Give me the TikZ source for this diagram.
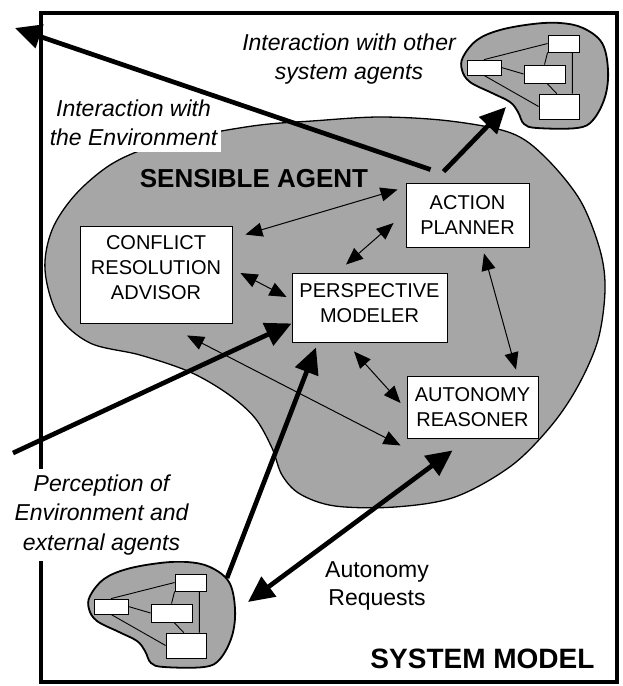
\documentclass[tikz,border=0pt]{standalone}
\usepackage{fontspec}
\setmainfont{Liberation Sans}
\usetikzlibrary{arrows.meta,calc}
\definecolor{agentgray}{RGB}{166,166,166}
\tikzset{
  module/.style={draw,fill=white,line width=0.9pt,inner sep=0pt,align=center,
    font=\fontsize{20}{25}\selectfont},
  minibox/.style={draw,fill=white,line width=0.8pt,inner sep=0pt},
  note/.style={align=center,font=\fontsize{23}{29.5}\selectfont\itshape},
  link/.style={{Triangle[length=17pt,width=14pt]}-{Triangle[length=17pt,width=14pt]},line width=1pt},
  flow/.style={-{Triangle[length=26pt,width=24pt]},line width=4.7pt},
  twoway/.style={{Triangle[length=26pt,width=24pt]}-{Triangle[length=26pt,width=24pt]},line width=4.7pt},
  pics/subsystem/.style={code={
    \draw[line width=1.8pt,fill=agentgray] plot[smooth cycle,tension=0.6] coordinates
      {(1,-10) (15,-27) (38,-37) (71,-43) (98,-44) (121,-39) (140,-24) (146,3)
       (143,30) (131,53) (115,61) (75,61) (62,57) (56,45) (48,35) (30,26) (8,15) (0,3)};
    \node[minibox,minimum width=34pt,minimum height=15pt] (-b1) at (22,0.5) {};
    \node[minibox,minimum width=31pt,minimum height=17pt] (-b2) at (101.5,-23.5) {};
    \node[minibox,minimum width=41pt,minimum height=18pt] (-b3) at (82.5,7) {};
    \node[minibox,minimum width=40pt,minimum height=25pt] (-b4) at (97,39.5) {};
    \draw[line width=0.9pt] (-b1.north) -- (-b2.west)
      (-b1.east) -- (-b3.west)
      (-b1.south) -- (-b4.west)
      (-b2.south west) -- (-b3.north)
      (-b3.-75) -- (-b4.100)
      ([xshift=-7pt]-b2.south east) -- ([xshift=-7pt]-b4.north east);
  }}
}
\begin{document}
\begin{tikzpicture}[x=1pt,y=-1pt]
\useasboundingbox (0,0) rectangle (623,686);
\draw[line width=1.3pt,fill=agentgray] plot[smooth cycle,tension=0.55] coordinates
  {(200,135) (260,125) (312,121) (380,117) (450,121) (511,133) (545,157) (580,200)
   (600,250) (605,290) (598,340) (578,386) (551,426) (511,466) (455,497) (395,507)
   (335,506) (300,494) (282,475) (272,448) (255,418) (228,394) (190,372) (140,355)
   (90,343) (58,315) (45,270) (52,230) (75,195) (110,165) (150,147)};
\pic (peer) at (462,67) {subsystem};
\pic (local) at (89,606) {subsystem};
\draw[line width=3.6pt] (41,13) rectangle (617,682);

\node[note,fill=white,inner xsep=4pt,inner ysep=6pt] (envnote) at (133.5,123) {Interaction with\\the Environment};
\node[note,fill=white,inner xsep=4pt,inner ysep=6pt] (percnote) at (101.5,515) {Perception of\\Environment and\\external agents};
\node[note] (peernote) at (349,59) {Interaction with other\\system agents};
\node[align=center,font=\fontsize{23}{28}\selectfont] (reqnote) at (377,586) {Autonomy\\Requests};
\node[anchor=base,font=\fontsize{26}{30}\selectfont\bfseries] (agent) at (254,187) {SENSIBLE AGENT};
\node[anchor=base,font=\fontsize{28}{32}\selectfont\bfseries] (system) at (482.5,668) {SYSTEM MODEL};

\node[module,minimum width=152pt,minimum height=97pt,text depth=13pt] (conflict) at (156,274.5) {CONFLICT\\RESOLUTION\\ADVISOR};
\node[module,minimum width=155pt,minimum height=69pt,text depth=8pt] (perspective) at (369.5,307.5) {PERSPECTIVE\\MODELER};
\node[module,minimum width=123pt,minimum height=64pt] (action) at (467.5,215) {ACTION\\PLANNER};
\node[module,minimum width=131pt,minimum height=62pt] (autonomy) at (472.5,407) {AUTONOMY\\REASONER};

\coordinate (env) at (15,28);
\coordinate (outside) at (13,453);
\coordinate (peerin) at (506,107);
\coordinate (localout) at (227,578);
\coordinate (localin) at (248,602);

\draw[link] ($(conflict.north east)+(13,9)$) -- ($(action.north west)+(-8,7)$);
\draw[link] ($(action.west)+(-12,8)$) -- ($(perspective.north)+(-23.5,-8)$);
\draw[link] ($(conflict.east)+(8,-1.5)$) -- ($(perspective.west)+(-5,-10.5)$);
\draw[link] ($(action.south)+(16.5,6)$) -- ($(autonomy.north)+(43.5,-6)$);
\draw[link] ($(perspective.south)+(-15.5,9)$) -- ($(autonomy.west)+(-6,-4)$);
\draw[link] ($(conflict.south)+(31,12)$) -- ($(autonomy.south west)+(-6,7)$);

\draw[flow] ($(action.north west)+(25,-13)$) -- (env);
\draw[flow] ($(action.north west)+(38,-11)$) -- (peerin);
\draw[flow] (outside) -- ($(perspective.south west)+(0,-19)$);
\draw[flow] (localout) -- ($(perspective.south)+(-53.5,5)$);
\draw[twoway] (localin) -- ($(autonomy.south west)+(46,12)$);
\end{tikzpicture}
\end{document}
